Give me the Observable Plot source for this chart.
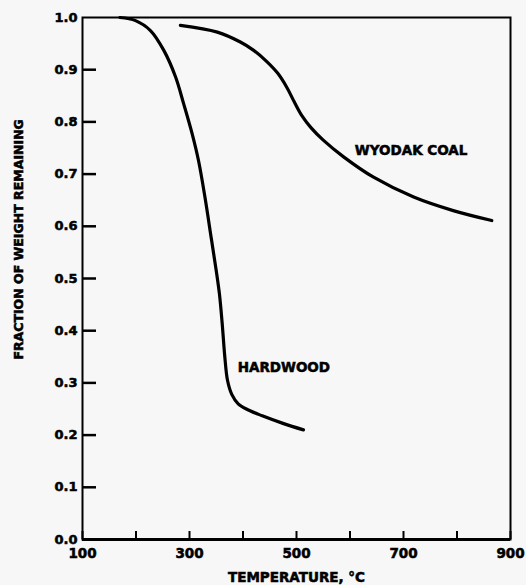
<!DOCTYPE html>
<html>
<head>
<meta charset="utf-8">
<script src="https://cdn.jsdelivr.net/npm/d3@7"></script>
<script src="https://cdn.jsdelivr.net/npm/@observablehq/plot@0.6"></script>
<style>
  html, body { margin: 0; padding: 0; background: #f7f7f7; }
  #chart { width: 526px; height: 585px; }
  #chart svg text { stroke: #000; stroke-width: 0.55px; }
</style>
</head>
<body>
<div id="chart"></div>
<script>
// Hardwood curve (temperature °C, fraction of weight remaining)
const hardwoodTemp = [170, 199, 227, 252, 274, 289, 305, 317, 329, 341, 350, 356, 361, 366, 371, 379, 391, 408, 436, 476, 513];
const hardwoodFrac = [1.0, 0.994, 0.975, 0.937, 0.886, 0.835, 0.777, 0.725, 0.655, 0.575, 0.515, 0.470, 0.415, 0.350, 0.305, 0.278, 0.260, 0.249, 0.237, 0.222, 0.210];
// Wyodak coal curve
const coalTemp = [283, 352, 395, 420, 445, 465, 482, 496, 510, 527, 550, 588, 644, 719, 793, 865];
const coalFrac = [0.985, 0.972, 0.953, 0.937, 0.915, 0.893, 0.866, 0.838, 0.812, 0.789, 0.765, 0.733, 0.694, 0.656, 0.630, 0.611];
// Axes
const xTicks = [100, 200, 300, 400, 500, 600, 700, 800, 900];
const xTickLabels = [100, 300, 500, 700, 900];
const yTicks = [0.1, 0.2, 0.3, 0.4, 0.5, 0.6, 0.7, 0.8, 0.9];
const yTickLabels = [0.0, 0.1, 0.2, 0.3, 0.4, 0.5, 0.6, 0.7, 0.8, 0.9, 1.0];
// Labels
const curveLabels = [
  {text: "WYODAK COAL", temp: 609, frac: 0.744},
  {text: "HARDWOOD", temp: 390, frac: 0.329}
];
const xTitle = "TEMPERATURE, °C";
const yTitle = "FRACTION OF WEIGHT REMAINING";

const hardwood = hardwoodTemp.map((t, i) => ({t, f: hardwoodFrac[i]}));
const coal = coalTemp.map((t, i) => ({t, f: coalFrac[i]}));

const W = 526, H = 585;
const mL = 82, mR = 16, mT = 17, mB = 46;
const plotW = W - mL - mR, plotH = H - mT - mB;
const font = "'DejaVu Sans', sans-serif";

const chart = Plot.plot({
  width: W,
  height: H,
  marginLeft: mL,
  marginRight: mR,
  marginTop: mT,
  marginBottom: mB,
  x: {domain: [100, 900]},
  y: {domain: [0, 1]},
  style: {background: "#f7f7f7", color: "#000", fontFamily: font, fontWeight: "bold", fontSize: "13px"},
  marks: [
    Plot.frame({stroke: "#000", strokeWidth: 2}),
    Plot.ruleY([0], {stroke: "#000", strokeWidth: 3}),
    // inward ticks
    Plot.ruleY(yTicks, {stroke: "#000", strokeWidth: 2.5, insetRight: plotW - 14}),
    Plot.ruleX(xTicks, {stroke: "#000", strokeWidth: 2, insetTop: plotH - 8}),
    Plot.axisY({ticks: yTickLabels, tickSize: 0, tickPadding: 5, tickFormat: d3.format(".1f"), label: null, fontSize: 13, fontWeight: "bold"}),
    Plot.axisX({ticks: xTickLabels, tickSize: 0, tickPadding: 9, tickFormat: d3.format("d"), label: null, fontSize: 13.5, fontWeight: "bold"}),
    Plot.line(hardwood, {x: "t", y: "f", stroke: "#000", strokeWidth: 3.2, curve: "catmull-rom"}),
    Plot.line(coal, {x: "t", y: "f", stroke: "#000", strokeWidth: 3.2, curve: "catmull-rom"}),
    Plot.text(curveLabels, {x: "temp", y: "frac", text: "text", textAnchor: "start", fontSize: 13.5, fontWeight: "bold", letterSpacing: "1.4px"}),
    Plot.text([xTitle], {frameAnchor: "bottom", dy: 38, text: d => d, fontSize: 13.5, fontWeight: "bold", lineAnchor: "middle", letterSpacing: "1px"}),
    Plot.text([yTitle], {frameAnchor: "left", y: () => 0.575, dx: -64, text: d => d, rotate: -90, fontSize: 12.5, fontWeight: "bold", textAnchor: "middle", letterSpacing: "1.2px"})
  ]
});
document.getElementById("chart").appendChild(chart);
</script>
</body>
</html>
